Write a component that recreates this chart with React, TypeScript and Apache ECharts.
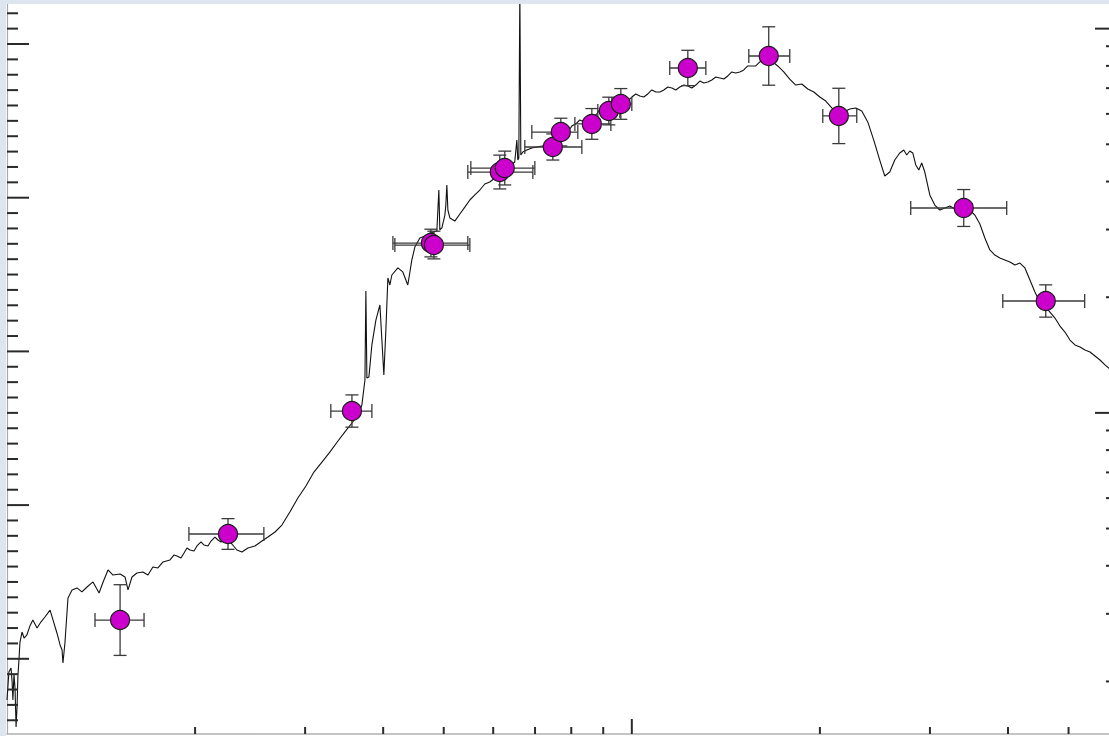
import { useEffect, useRef } from "react";
import * as echarts from "echarts";

// Plot ranges: wavelength in µm (log), AB magnitude (linear, brighter upward)
const WAVE_MIN = 0.1;
const WAVE_MAX = 5.8252;
const MAG_TOP = 13.7137;
const MAG_BOTTOM = 18.4893;
// AB magnitude of a 1 mJy source
const AB_ZERO_MJY = 16.4;

// Model spectrum: wavelength (µm) and AB magnitude
const specWave = [
  // far-UV
  0.1, 0.1007, 0.1015, 0.1019, 0.1022, 0.1026, 0.103, 0.1034, 0.1038, 0.1041,
  0.1045, 0.1049, 0.1057, 0.1065, 0.1076, 0.1088, 0.11, 0.1117, 0.1133, 0.115,
  0.1172, 0.1185, 0.1202, 0.1216, 0.1225, 0.1229, 0.1238, 0.1252, 0.1271, 0.1294,
  0.1318, 0.1343, 0.1373, 0.1404, 0.1425, 0.1451, 0.1478, 0.1517, 0.1545, 0.1562,
  0.1585, 0.1614, 0.165, 0.1681, 0.1712, 0.1744, 0.1777,
  // near-UV
  0.1823, 0.185, 0.1871, 0.1899, 0.192, 0.1941, 0.1963, 0.1992, 0.2014, 0.2044,
  0.2067, 0.2097, 0.2121, 0.2152, 0.2176, 0.22, 0.2233,
  0.2291, 0.2333, 0.2377, 0.243,
  0.2493, 0.2559, 0.2616, 0.2685, 0.2754, 0.2836, 0.2921, 0.3009, 0.3099, 0.3192,
  // Balmer break and emission lines
  0.3286, 0.3386, 0.3474, 0.3565, 0.3645, 0.3698, 0.374, 0.3753, 0.3767, 0.3795,
  0.3837, 0.3894, 0.3952, 0.3981, 0.401, 0.404, 0.407, 0.41, 0.413, 0.4222,
  0.43, 0.438, 0.4446, 0.4495, 0.4579, 0.4664, 0.4751, 0.4822, 0.4875, 0.4911,
  0.4929, 0.4966, 0.5021, 0.5039, 0.5058, 0.5077, 0.5114, 0.5209, 0.5306, 0.5404,
  0.5505, 0.5607, 0.5711, 0.5817, 0.5925, 0.6035, 0.6147, 0.6261, 0.6377, 0.6496,
  0.6546, 0.657, 0.6594, 0.6619, 0.6643, 0.6692, 0.6792, 0.6918, 0.7047, 0.7178,
  0.7311, 0.7447,
  // red optical
  0.7586, 0.7727, 0.787, 0.7958, 0.8017, 0.8166, 0.8255, 0.8318, 0.8472, 0.8567,
  0.863, 0.879, 0.8889, 0.8954, 0.912, 0.9222, 0.929, 0.9462, 0.9568, 0.9638,
  0.9817, 0.9927,
  // near-IR
  1.0, 1.0148, 1.0299, 1.0452, 1.0607, 1.0765, 1.0925, 1.1087, 1.125, 1.1419,
  1.1588, 1.1761, 1.1934, 1.2113, 1.2292, 1.2474, 1.2661, 1.2848, 1.3039, 1.3231,
  1.3428, 1.3627, 1.3831, 1.4036, 1.4244, 1.4454, 1.4669, 1.4888, 1.5108, 1.5333,
  1.556, 1.5792, 1.6025,
  1.6383, 1.6749, 1.7123, 1.7506, 1.7896, 1.8297,
  1.8707, 1.9125, 1.9553, 1.9989, 2.0437, 2.0893, 2.136, 2.1837, 2.2326, 2.2825,
  2.3335, 2.3857, 2.439, 2.4934, 2.5398, 2.5871, 2.6353, 2.6843, 2.7243, 2.7542,
  2.7852, 2.8162, 2.8475, 2.8793, 2.9107, 2.9437, 2.9985, 3.0543, 3.1112, 3.1691,
  3.2282, 3.2883, 3.3495, 3.4119, 3.4754, 3.5401, 3.606, 3.6731, 3.7415, 3.8111,
  3.8821, 3.9544, 4.028, 4.103, 4.1794, 4.2572, 4.3365, 4.4172, 4.4995, 4.5832,
  4.6686, 4.7555, 4.844, 4.9342, 5.0261, 5.1196, 5.2149, 5.312, 5.4109, 5.5116,
  5.6142, 5.7187, 5.8252,
];
const specMag = [
  // far-UV
  18.268, 18.086, 18.06, 18.151, 18.268, 18.099, 18.19, 18.444, 18.301, 18.112,
  18.008, 17.891, 17.826, 17.865, 17.845, 17.787, 17.748, 17.8, 17.761, 17.728,
  17.683, 17.748, 17.832, 17.91, 17.943, 18.027, 17.897, 17.604, 17.552, 17.539,
  17.565, 17.533, 17.5, 17.572, 17.5, 17.422, 17.455, 17.448, 17.468, 17.552,
  17.468, 17.442, 17.435, 17.455, 17.403, 17.409, 17.37,
  // near-UV
  17.357, 17.325, 17.331, 17.344, 17.312, 17.279, 17.292, 17.299, 17.266, 17.24,
  17.26, 17.266, 17.234, 17.208, 17.227, 17.24, 17.214,
  17.253, 17.292, 17.305, 17.279,
  17.266, 17.234, 17.208, 17.175, 17.13, 17.045, 16.954, 16.876, 16.785, 16.72,
  // Balmer break and emission lines
  16.655, 16.583, 16.524, 16.466, 16.414, 16.349, 16.186, 15.607, 16.173, 16.167,
  15.958, 15.796, 15.698, 15.926, 16.154, 15.861, 15.522, 15.568, 15.503, 15.457,
  15.483, 15.568, 15.405, 15.321, 15.262, 15.249, 15.23, 15.223, 15.217, 14.95,
  15.21, 15.197, 15.113, 15.048, 14.917, 15.08, 15.132, 15.152, 15.106, 15.061,
  15.015, 14.982, 14.95, 14.911, 14.898, 14.872, 14.852, 14.82, 14.794, 14.768,
  14.625, 14.755, 14.742, 13.65, 14.722, 14.703, 14.69, 14.677, 14.67, 14.664,
  14.657, 14.644,
  // red optical
  14.612, 14.573, 14.547, 14.553, 14.534, 14.514, 14.494, 14.501, 14.488, 14.501,
  14.481, 14.455, 14.429, 14.436, 14.416, 14.423, 14.403, 14.384, 14.364, 14.371,
  14.358, 14.358,
  // near-IR
  14.345, 14.325, 14.338, 14.345, 14.325, 14.299, 14.312, 14.312, 14.299, 14.28,
  14.286, 14.299, 14.28, 14.267, 14.273, 14.286, 14.267, 14.241, 14.254, 14.247,
  14.234, 14.215, 14.221, 14.228, 14.208, 14.182, 14.189, 14.182, 14.169, 14.143,
  14.143, 14.143, 14.117,
  14.091, 14.111, 14.143, 14.182, 14.228, 14.267,
  14.26, 14.293, 14.312, 14.345, 14.371, 14.416, 14.449, 14.442, 14.423, 14.416,
  14.436, 14.507, 14.625, 14.755, 14.859, 14.833, 14.755, 14.709, 14.69, 14.722,
  14.696, 14.709, 14.787, 14.82, 14.774, 14.833, 14.982, 15.048, 15.08, 15.067,
  15.054, 15.074, 15.087, 15.106, 15.08, 15.113, 15.171, 15.262, 15.34, 15.373,
  15.392, 15.405, 15.418, 15.438, 15.425, 15.457, 15.535, 15.614, 15.679, 15.705,
  15.744, 15.783, 15.835, 15.874, 15.926, 15.958, 15.971, 15.991, 16.004, 16.03,
  16.056, 16.088, 16.115,
];

// Broadband photometry: effective wavelength, band edges (µm), AB magnitude and error
const bandWave = [
  0.1517, 0.2258, 0.3565, 0.4769, 0.4822, 0.6147, 0.6261, 0.7474, 0.7698,
  0.863, 0.9188, 0.9603, 1.2292, 1.6562, 2.1443, 3.398, 4.597,
];
const bandWaveLo = [
  0.1383, 0.1955, 0.3298, 0.4146, 0.4176, 0.5464, 0.5525, 0.6741, 0.6918,
  0.8107, 0.8822, 0.929, 1.15, 1.539, 2.0212, 2.795, 3.924,
];
const bandWaveHi = [
  0.1657, 0.2577, 0.3837, 0.5464, 0.5505, 0.6944, 0.6995, 0.8318, 0.8195,
  0.9256, 0.9568, 1.0, 1.3137, 1.7896, 2.2909, 3.981, 5.306,
];
const bandMag = [
  17.748, 17.188, 16.388, 15.295, 15.308, 14.833, 14.807, 14.67, 14.573,
  14.52, 14.436, 14.39, 14.156, 14.078, 14.468, 15.067, 15.672,
];
const bandMagErr = [
  0.23, 0.1, 0.105, 0.09, 0.09, 0.11, 0.11, 0.085, 0.09,
  0.1, 0.09, 0.1, 0.115, 0.19, 0.18, 0.12, 0.105,
];

// Tick positions
const magMajorTicks = [14, 15, 16, 17, 18];
const waveMajorTicks = [1];
const waveMinorTicks = [0.2, 0.3, 0.4, 0.5, 0.6, 0.7, 0.8, 0.9, 2, 3, 4, 5];
const fluxMajorTicks = [1, 10]; // mJy
const fluxMinorTicks = [0.2, 0.3, 0.4, 0.5, 0.6, 0.7, 0.8, 0.9, 2, 3, 4, 5, 6, 7, 8, 9];

export default function App() {
  const ref = useRef<HTMLDivElement>(null);

  useEffect(() => {
    if (!ref.current) return;
    const chart = echarts.init(ref.current, null, { renderer: "svg" });
    const fluxToMag = (f: number) => AB_ZERO_MJY - 2.5 * Math.log10(f);

    // [x, y, dx, dy]: tick anchor in data units plus its pixel extent
    const ticks: number[][] = [];
    magMajorTicks.forEach((m) => ticks.push([WAVE_MIN, m, 22, 0]));
    for (let i = Math.ceil(MAG_TOP * 10); i <= Math.floor(MAG_BOTTOM * 10); i++) {
      if (i % 10 !== 0) ticks.push([WAVE_MIN, i / 10, 11, 0]);
    }
    waveMajorTicks.forEach((w) => ticks.push([w, MAG_BOTTOM, 0, -15]));
    waveMinorTicks.forEach((w) => ticks.push([w, MAG_BOTTOM, 0, -7]));
    fluxMajorTicks.forEach((f) => ticks.push([WAVE_MAX, fluxToMag(f), -15, 0]));
    fluxMinorTicks.forEach((f) => ticks.push([WAVE_MAX, fluxToMag(f), -4, 0]));

    const n = Math.min(specWave.length, specMag.length);
    const spectrum = specWave.slice(0, n).map((w, i) => [w, specMag[i]]);
    const bands = bandWave.map((w, i) => [w, bandMag[i]]);
    const bandErrors = bandWave.map((w, i) => [
      w,
      bandMag[i],
      bandWaveLo[i],
      bandWaveHi[i],
      bandMagErr[i],
    ]);

    chart.setOption({
      animation: false,
      backgroundColor: "#ffffff",
      grid: { left: 7, right: 2, top: 0, bottom: 2 },
      xAxis: {
        type: "log",
        logBase: 10,
        min: WAVE_MIN,
        max: WAVE_MAX,
        axisLine: { show: true, onZero: false, lineStyle: { color: "#b0b0b0", width: 1.5 } },
        axisTick: { show: false },
        axisLabel: { show: false },
        splitLine: { show: false },
      },
      yAxis: {
        type: "value",
        inverse: true,
        min: MAG_TOP,
        max: MAG_BOTTOM,
        axisLine: { show: true, onZero: false, lineStyle: { color: "#a8a8a8", width: 1.2 } },
        axisTick: { show: false },
        axisLabel: { show: false },
        splitLine: { show: false },
      },
      series: [
        {
          type: "line",
          data: spectrum,
          showSymbol: false,
          symbol: "none",
          silent: true,
          clip: true,
          z: 2,
          lineStyle: { color: "#111111", width: 1.1 },
        },
        {
          type: "custom",
          data: bandErrors,
          encode: { x: 0, y: 1 },
          silent: true,
          z: 3,
          renderItem: (_params: any, api: any) => {
            const w = api.value(0);
            const m = api.value(1);
            const e = api.value(4);
            const c = api.coord([w, m]);
            const l = api.coord([api.value(2), m]);
            const r = api.coord([api.value(3), m]);
            const t = api.coord([w, m - e]);
            const b = api.coord([w, m + e]);
            const style = { stroke: "#3a3a3a", lineWidth: 1.3 };
            const seg = (x1: number, y1: number, x2: number, y2: number) => ({
              type: "line",
              shape: { x1, y1, x2, y2 },
              style,
            });
            return {
              type: "group",
              children: [
                seg(l[0], c[1], r[0], c[1]),
                seg(l[0], c[1] - 7, l[0], c[1] + 7),
                seg(r[0], c[1] - 7, r[0], c[1] + 7),
                seg(c[0], t[1], c[0], b[1]),
                seg(c[0] - 6.5, t[1], c[0] + 6.5, t[1]),
                seg(c[0] - 6.5, b[1], c[0] + 6.5, b[1]),
              ],
            };
          },
        },
        {
          type: "scatter",
          data: bands,
          symbol: "circle",
          symbolSize: 19,
          silent: true,
          z: 4,
          itemStyle: {
            color: "#cc00cc",
            opacity: 1,
            borderColor: "#1e1e1e",
            borderWidth: 1.2,
          },
        },
        {
          type: "custom",
          data: ticks,
          encode: { x: 0, y: 1 },
          silent: true,
          z: 5,
          renderItem: (_params: any, api: any) => {
            const p = api.coord([api.value(0), api.value(1)]);
            return {
              type: "line",
              shape: {
                x1: p[0],
                y1: p[1],
                x2: p[0] + api.value(2),
                y2: p[1] + api.value(3),
              },
              style: { stroke: "#2a2a2a", lineWidth: 2 },
            };
          },
        },
      ],
      graphic: [
        {
          type: "rect",
          z: 100,
          silent: true,
          shape: { x: 0, y: 0, width: 1112, height: 4 },
          style: { fill: "#dde5ef" },
        },
        {
          type: "rect",
          z: 100,
          silent: true,
          shape: { x: 0, y: 0, width: 6, height: 736 },
          style: { fill: "#dde5ef" },
        },
      ],
    });

    return () => chart.dispose();
  }, []);

  return (
    <div
      style={{
        position: "fixed",
        left: 0,
        top: 0,
        width: 1109,
        height: 736,
        overflow: "hidden",
        background: "#ffffff",
      }}
    >
      <div ref={ref} style={{ width: 1112, height: 736 }} />
    </div>
  );
}
